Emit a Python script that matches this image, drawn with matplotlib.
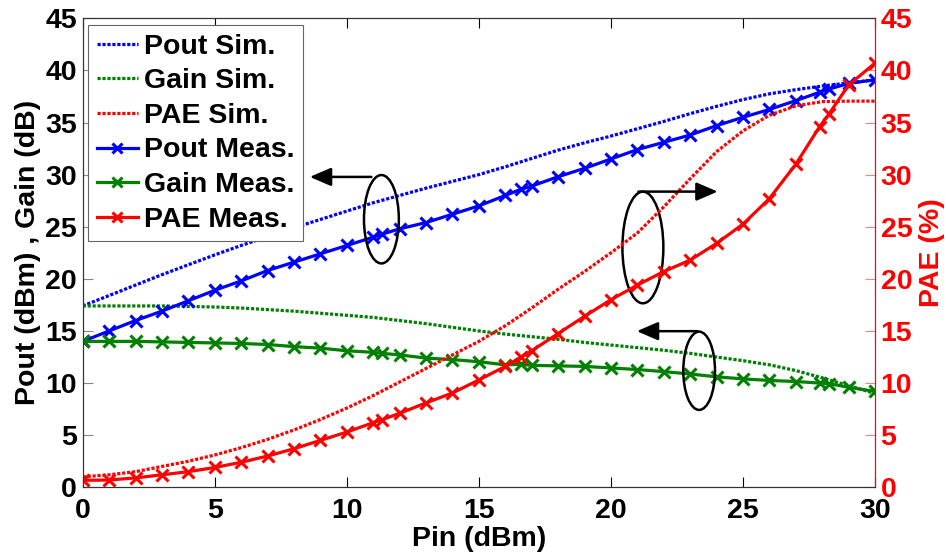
import matplotlib
matplotlib.use("Agg")
import matplotlib.pyplot as plt
from matplotlib.patches import Ellipse

# ---------------- data ----------------
pin_sim = list(range(0, 31))
pout_sim = [17.4, 18.4, 19.4, 20.4, 21.35, 22.3, 23.2, 24.05, 24.9, 25.7, 26.5,
            27.3, 28.0, 28.7, 29.35, 30.0, 30.75, 31.55, 32.35, 33.05, 33.7,
            34.4, 35.1, 35.85, 36.55, 37.2, 37.75, 38.15, 38.5, 38.8, 39.1]
gain_sim = [17.4, 17.4, 17.4, 17.4, 17.35, 17.3, 17.2, 17.05, 16.9, 16.7, 16.5,
            16.3, 16.0, 15.7, 15.35, 15.0, 14.7, 14.45, 14.2, 13.9, 13.65,
            13.4, 13.15, 12.85, 12.5, 12.15, 11.75, 11.2, 10.5, 9.75, 9.0]
pae_sim = [1.0, 1.2, 1.5, 2.0, 2.5, 3.1, 3.8, 4.6, 5.5, 6.5, 7.6,
           8.8, 10.1, 11.4, 12.7, 14.0, 15.5, 17.2, 19.0, 20.7, 22.5,
           24.4, 26.9, 29.6, 32.2, 34.2, 35.7, 36.6, 37.0, 37.05, 37.05]

pin_meas = [0, 1, 2, 3, 4, 5, 6, 7, 8, 9, 10, 11, 11.35, 12, 13, 14, 15, 16, 16.6,
            17, 18, 19, 20, 21, 22, 23, 24, 25, 26, 27, 27.9, 28.25, 29, 30]
pout_meas = [14.0, 15.0, 16.0, 16.9, 17.9, 18.9, 19.8, 20.8, 21.6, 22.4, 23.2,
             24.0, 24.3, 24.8, 25.4, 26.2, 27.0, 28.0, 28.6, 28.9, 29.8, 30.6,
             31.5, 32.4, 33.1, 33.8, 34.7, 35.5, 36.25, 37.1, 37.9, 38.2, 38.75, 39.1]
gain_meas = [14.0, 14.0, 14.0, 13.95, 13.9, 13.85, 13.8, 13.7, 13.5, 13.35, 13.1,
             12.95, 12.85, 12.7, 12.4, 12.25, 12.05, 11.75, 11.8, 11.7, 11.65, 11.6,
             11.45, 11.3, 11.1, 10.87, 10.6, 10.4, 10.25, 10.15, 10.0, 9.95, 9.6, 9.2]
pae_meas = [0.67, 0.7, 0.9, 1.2, 1.5, 1.9, 2.4, 3.0, 3.7, 4.5, 5.3,
            6.2, 6.5, 7.1, 8.1, 9.05, 10.3, 11.6, 12.5, 13.1, 14.75, 16.4,
            18.0, 19.4, 20.7, 21.8, 23.4, 25.25, 27.7, 31.0, 34.6, 35.8, 38.6, 40.7]

x_ticks = [0, 5, 10, 15, 20, 25, 30]
y_ticks = [0, 5, 10, 15, 20, 25, 30, 35, 40, 45]

# ---------------- style ----------------
plt.rcParams['font.family'] = ['Liberation Sans', 'DejaVu Sans']
plt.rcParams['font.weight'] = 'bold'
FS = 20.5
BLUE, GREEN, RED = (0, 0, 1), (0, 0.5, 0), (1, 0, 0)
dot = (0, (1.0, 0.55))
LW = 2.3

fig = plt.figure(figsize=(9.46, 5.54), dpi=100)
ax = fig.add_axes([0.0874, 0.1204, 0.925 - 0.0874, 0.967 - 0.1204])
ax2 = ax.twinx()

l1, = ax.plot(pin_sim, pout_sim, color=BLUE, lw=LW, ls=dot, label='Pout Sim.')
l2, = ax.plot(pin_sim, gain_sim, color=GREEN, lw=LW, ls=dot, label='Gain Sim.')
l4, = ax.plot(pin_meas, pout_meas, color=BLUE, lw=LW, marker='x', ms=8, mew=2.2,
              label='Pout Meas.')
l5, = ax.plot(pin_meas, gain_meas, color=GREEN, lw=LW, marker='x', ms=8, mew=2.2,
              label='Gain Meas.')
l3, = ax2.plot(pin_sim, pae_sim, color=RED, lw=LW, ls=dot, label='PAE Sim.')
l6, = ax2.plot(pin_meas, pae_meas, color=RED, lw=LW, marker='x', ms=8, mew=2.2,
               label='PAE Meas.')

for a in (ax, ax2):
    a.set_xlim(0, 30)
    a.set_ylim(0, 45)
    a.set_yticks(y_ticks)
ax.set_xticks(x_ticks)

ax.tick_params(axis='x', direction='in', length=7, width=0.8, top=True,
               labelsize=FS, pad=8, colors='black')
ax.tick_params(axis='y', direction='in', length=7, width=0.8, right=False,
               labelsize=FS, pad=4, color='#888888', labelcolor='black')
ax2.tick_params(axis='y', direction='in', length=7, width=0.8, labelsize=FS,
                pad=4, color='#ff8080', labelcolor=RED)
for t in ax.get_xticklabels() + ax.get_yticklabels() + ax2.get_yticklabels():
    t.set_fontweight('bold')

for s in ('left', 'bottom', 'top'):
    ax.spines[s].set_color('#333333')
    ax2.spines[s].set_color('#333333')
ax2.spines['right'].set_color(RED)
ax.spines['right'].set_color(RED)

ax.set_xlabel('Pin (dBm)', fontsize=FS, fontweight='bold')
ax.xaxis.set_label_coords(0.5, -0.083)
ax.set_ylabel('Pout (dBm) , Gain (dB)', fontsize=FS, fontweight='bold', labelpad=3)
ax2.set_ylabel('PAE (%)', fontsize=FS, fontweight='bold', color=RED, labelpad=5)

# annotations (ellipses + arrows) in data coordinates
ann_kw = dict(arrowstyle='-|>,head_length=0.65,head_width=0.28', color='black',
              lw=1.8, mutation_scale=20, shrinkA=0, shrinkB=0)
ax2.add_patch(Ellipse((11.31, 25.72), 1.32, 8.48, fill=False, ec='black', lw=1.8))
ax2.annotate('', xy=(8.6, 29.78), xytext=(10.93, 29.78), arrowprops=ann_kw)
ax2.add_patch(Ellipse((21.21, 23.01), 1.55, 10.71, fill=False, ec='black', lw=1.8))
ax2.annotate('', xy=(24.04, 28.37), xytext=(21.04, 28.37), arrowprops=ann_kw)
ax2.add_patch(Ellipse((23.34, 11.18), 1.2, 7.51, fill=False, ec='black', lw=1.8))
ax2.annotate('', xy=(20.98, 14.98), xytext=(23.28, 14.98), arrowprops=ann_kw)

leg = ax2.legend(handles=[l1, l2, l3, l4, l5, l6], loc='upper left',
                 bbox_to_anchor=(0.007, 0.985), fontsize=FS, frameon=True,
                 fancybox=False, edgecolor='#666666', framealpha=1,
                 handlelength=1.45, handletextpad=0.22, labelspacing=0.3,
                 borderpad=0.3, borderaxespad=0.0, markerscale=0.9)
leg.get_frame().set_linewidth(0.8)
for t in leg.get_texts():
    t.set_fontweight('bold')

fig.savefig('out.png', dpi=100)
